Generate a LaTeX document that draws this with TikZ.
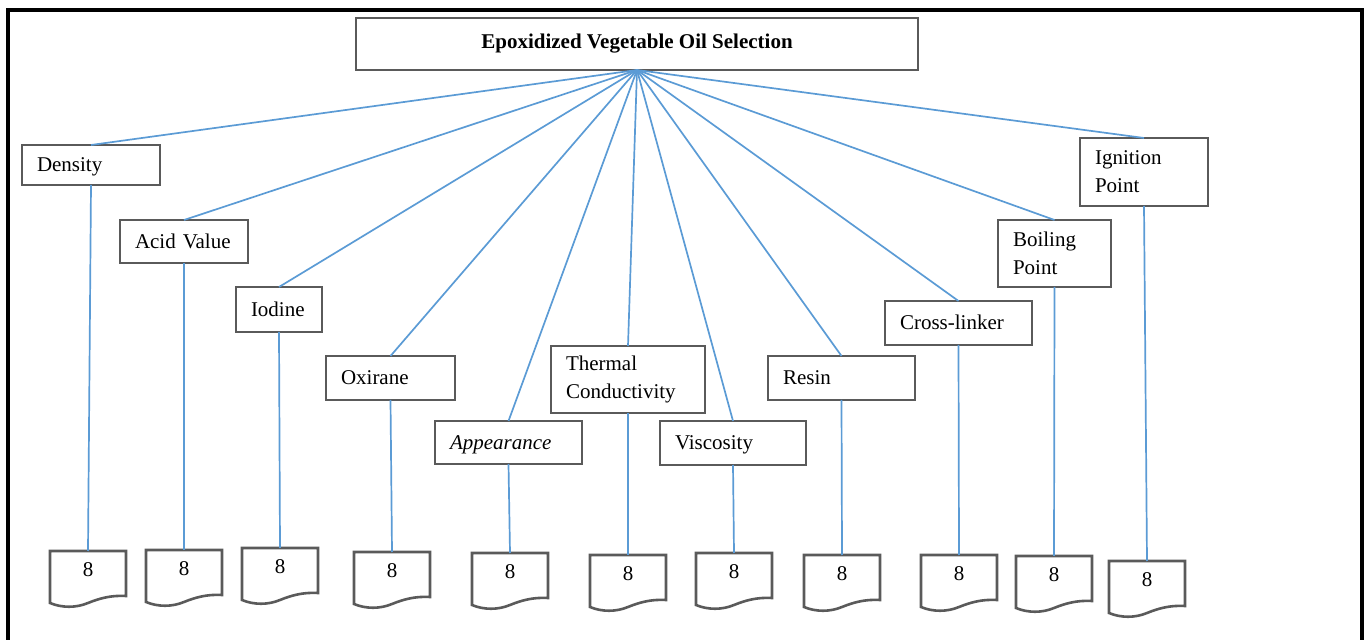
\documentclass[tikz,border=0pt]{standalone}
\usepackage{fontspec}
\setmainfont{Liberation Serif}
\definecolor{boxgray}{HTML}{5A5A5A}
\definecolor{linkblue}{HTML}{5B9BD5}
\tikzset{
  labelbox/.style={draw=boxgray, line width=1.4pt, anchor=north west, outer sep=0pt,
    inner xsep=7.5pt, inner ysep=0pt, align=left,
    font=\fontsize{10.5}{14}\selectfont},
  oneline/.style={labelbox, text height=0.7em, text depth=0pt},
  docnum/.style={anchor=north, minimum width=38pt, minimum height=19pt, inner sep=0pt,
    outer sep=0pt, font=\fontsize{10.5}{14}\selectfont},
  docline/.style={draw=boxgray, line width=1.3pt},
  link/.style={draw=linkblue, line width=0.85pt}
}
\begin{document}
\begin{tikzpicture}[x=0.5pt, y=-0.5pt]
  \useasboundingbox (0,0) rectangle (1365,640);
  \draw[line width=1.7pt] (8,10) rectangle (1362,670);
  % top box
  \node[draw=boxgray, line width=1.4pt, minimum width=281pt, minimum height=26pt, outer sep=0pt,
    font=\fontsize{10.5}{14}\selectfont\bfseries] (title) at (637,44) {Epoxidized Vegetable Oil Selection};
  % properties
  \node[oneline, text width=54pt, minimum height=20pt] (density) at (22,145) {Density};
  \node[oneline, text width=49pt, minimum height=21.5pt] (acid) at (120,220) {Acid Value};
  \node[oneline, text width=28pt, minimum height=22.5pt] (iodine) at (236,287) {Iodine};
  \node[oneline, text width=49.5pt, minimum height=22pt] (oxirane) at (326,356) {Oxirane};
  \node[oneline, text width=58.5pt, minimum height=21.5pt] (appearance) at (435,421) {\itshape Appearance};
  \node[labelbox, text width=62pt, minimum height=33.5pt] (thermal) at (551,346) {Thermal\\Conductivity};
  \node[oneline, text width=58pt, minimum height=22pt] (viscosity) at (660,421) {Viscosity};
  \node[oneline, text width=58.5pt, minimum height=22pt] (resin) at (768,356) {Resin};
  \node[oneline, text width=58.5pt, minimum height=22pt] (crosslinker) at (885,301) {Cross-linker};
  \node[labelbox, text width=41.5pt, minimum height=33.5pt] (boiling) at (998,220) {Boiling\\Point};
  \node[labelbox, text width=49pt, minimum height=34pt] (ignition) at (1080,138) {Ignition\\Point};
  % documents
  \foreach \n/\x/\y in {d1/50/551, d2/146/550, d3/242/548, d4/354/552, d5/472/553, d6/590/555,
      d7/696/553, d8/804/555, d9/921/555, d10/1016/556, d11/1109/561} {
    \node[docnum] (\n) at (\x+38,\y) {8};
    \draw[docline] (\x,\y) -- (\x+76,\y) -- (\x+76,\y+45)
      .. controls (\x+60,\y+44) and (\x+48,\y+48) .. (\x+38,\y+52)
      .. controls (\x+26,\y+57) and (\x+12,\y+57) .. (\x,\y+52) -- cycle;
  }
  \begin{scope}[link]
    \draw (title.south) -- (density.north);
    \draw (title.south) -- (acid.north);
    \draw (title.south) -- (iodine.north);
    \draw (title.south) -- (oxirane.north);
    \draw (title.south) -- (appearance.north);
    \draw (title.south) -- (thermal.north);
    \draw (title.south) -- (viscosity.north);
    \draw (title.south) -- (resin.north);
    \draw (title.south) -- (crosslinker.north);
    \draw (title.south) -- (boiling.north);
    \draw (title.south) -- (ignition.north);
    \draw (density.south) -- (d1.north);
    \draw (acid.south) -- (d2.north);
    \draw (iodine.south) -- (d3.north);
    \draw (oxirane.south) -- (d4.north);
    \draw (appearance.south) -- (d5.north);
    \draw (thermal.south) -- (d6.north);
    \draw (viscosity.south) -- (d7.north);
    \draw (resin.south) -- (d8.north);
    \draw (crosslinker.south) -- (d9.north);
    \draw (boiling.south) -- (d10.north);
    \draw (ignition.south) -- (d11.north);
  \end{scope}
\end{tikzpicture}
\end{document}
